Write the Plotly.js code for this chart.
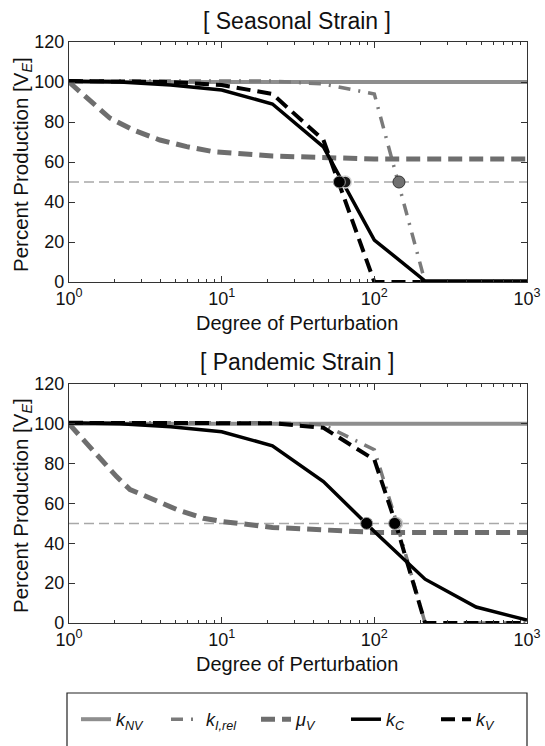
<!DOCTYPE html>
<html>
<head>
<meta charset="utf-8">
<script src="https://cdn.plot.ly/plotly-3.0.1.min.js"></script>
<style>html,body{margin:0;padding:0;background:#fff;}#plot{width:545px;height:746px;}</style>
</head>
<body>
<div id="plot"></div>
<script>
// ---------- data ----------
const xGrid = [1, 2.15, 4.64, 10, 21.5, 46.4, 100, 215, 464, 1000];

// Seasonal strain (top)
const kNV_top = [100, 100, 100, 100, 100, 100, 100, 100, 100, 100];
const kIrel_top_x = [1, 10, 21.5, 46.4, 100, 215, 464, 1000];
const kIrel_top = [100.5, 100.5, 100.5, 99, 94, 0, 0, 0];
const muV_top_x = [1, 1.31, 1.85, 2.64, 3.94, 5.9, 8.8, 21.5, 46.4, 100, 1000];
const muV_top = [100, 92, 82, 76, 71, 67.7, 65.2, 63, 62, 61.5, 61.5];
const kC_top = [100.5, 100, 98.5, 96, 89, 67.5, 21, 0.5, 0.5, 0.5];
const kV_top = [100.5, 100.5, 100, 98.5, 94, 71, 0, 0, 0, 0];
const half_top_x = [59, 64.5, 145];
const half_top_y = [50, 50, 50];

// Pandemic strain (bottom)
const kNV_bot = [100, 100, 100, 100, 100, 100, 100, 100, 100, 100];
const kIrel_bot_x = [1, 10, 21.5, 46.4, 100, 138, 215, 464, 1000];
const kIrel_bot = [100.5, 100.5, 100.5, 99.5, 87, 52, 0, 0, 0];
const muV_bot_x = [1, 1.27, 1.6, 2.05, 2.51, 3.56, 5.07, 7.58, 10, 21.5, 46.4, 100, 1000];
const muV_bot = [100, 91, 83, 73.5, 67, 62, 57, 52.6, 51, 48, 46.5, 45.5, 45.5];
const kC_bot = [100.5, 100, 98.5, 96, 89, 71, 46, 22, 8, 1.5];
const kV_bot_x = [1, 10, 21.5, 46.4, 100, 138, 215, 464, 1000];
const kV_bot = [100.5, 100.5, 100.3, 98, 82, 50, 0, 0, 0];
const half_bot_x = [89, 140, 136];
const half_bot_y = [50, 50, 50];

const refX = [1, 1000];
const refY = [50, 50];

const seriesNames = ['<i>k</i><sub><i>NV</i></sub>', '<i>k</i><sub><i>I,rel</i></sub>', '<i>μ</i><sub><i>V</i></sub>', '<i>k</i><sub><i>C</i></sub>', '<i>k</i><sub><i>V</i></sub>'];
const xTickVals = [1, 10, 100, 1000];
const xTickText = ['10<sup>0</sup>', '10<sup>1</sup>', '10<sup>2</sup>', '10<sup>3</sup>'];
const yTickVals = [0, 20, 40, 60, 80, 100, 120];
const titles = ['[ Seasonal Strain ]', '[ Pandemic Strain ]'];
const xTitle = 'Degree of Perturbation';
const yTitle = 'Percent Production [V<sub><i>E</i></sub>]';

// ---------- styles ----------
const styles = [
  {color: '#8e8e8e', width: 4, dash: 'solid'},
  {color: '#7a7a7a', width: 3.5, dash: '12px,8px,2px,8px'},
  {color: '#6e6e6e', width: 5, dash: '14px,7px'},
  {color: '#000000', width: 3.5, dash: 'solid'},
  {color: '#000000', width: 4, dash: '14px,7px'}
];

function panel(xa, ya, set, showLegend) {
  const tr = [];
  tr.push({x: refX, y: refY, xaxis: xa, yaxis: ya, mode: 'lines', showlegend: false, hoverinfo: 'skip',
           line: {color: '#a8a8a8', width: 1.5, dash: '10px,5px'}});
  set.forEach((s, i) => {
    tr.push({x: s.x, y: s.y, xaxis: xa, yaxis: ya, mode: 'lines', name: seriesNames[i],
             showlegend: showLegend, line: styles[i]});
  });
  return tr;
}

const topSet = [
  {x: xGrid, y: kNV_top}, {x: kIrel_top_x, y: kIrel_top}, {x: muV_top_x, y: muV_top},
  {x: xGrid, y: kC_top}, {x: xGrid, y: kV_top}
];
const botSet = [
  {x: xGrid, y: kNV_bot}, {x: kIrel_bot_x, y: kIrel_bot}, {x: muV_bot_x, y: muV_bot},
  {x: xGrid, y: kC_bot}, {x: kV_bot_x, y: kV_bot}
];

let traces = [];
traces = traces.concat(panel('x', 'y', topSet, true));
traces = traces.concat(panel('x2', 'y2', botSet, false));

// 50% markers
traces.push({x: [half_top_x[1]], y: [half_top_y[1]], xaxis: 'x', yaxis: 'y', mode: 'markers', showlegend: false,
  marker: {size: 12, color: '#1a1a1a', line: {color: '#d4d4d4', width: 1.5}}});
traces.push({x: [half_top_x[0]], y: [half_top_y[0]], xaxis: 'x', yaxis: 'y', mode: 'markers', showlegend: false,
  marker: {size: 12, color: '#000000', line: {color: '#9a9a9a', width: 1}}});
traces.push({x: [half_top_x[2]], y: [half_top_y[2]], xaxis: 'x', yaxis: 'y', mode: 'markers', showlegend: false,
  marker: {size: 12, color: '#707070', line: {color: '#333333', width: 1}}});
traces.push({x: [half_bot_x[1]], y: [half_bot_y[1]], xaxis: 'x2', yaxis: 'y2', mode: 'markers', showlegend: false,
  marker: {size: 12, color: '#808080', line: {color: '#cfcfcf', width: 1.5}}});
traces.push({x: [half_bot_x[2]], y: [half_bot_y[2]], xaxis: 'x2', yaxis: 'y2', mode: 'markers', showlegend: false,
  marker: {size: 12, color: '#000000', line: {color: '#9a9a9a', width: 1}}});
traces.push({x: [half_bot_x[0]], y: [half_bot_y[0]], xaxis: 'x2', yaxis: 'y2', mode: 'markers', showlegend: false,
  marker: {size: 12, color: '#000000', line: {color: '#9a9a9a', width: 1}}});

const W = 545, H = 746;
const px = v => v / W;
const py = v => 1 - v / H;

const minorVals = [];
[1, 10, 100].forEach(d => { for (let k = 2; k <= 9; k++) minorVals.push(d * k); });

const FONT = 'Liberation Sans, Arial, Helvetica, sans-serif';

function xAxis(dom, anchor) {
  return {
    type: 'log', range: [0, 3], domain: dom, anchor: anchor,
    tickmode: 'array', tickvals: xTickVals, ticktext: xTickText,
    ticks: 'inside', ticklen: 6, tickwidth: 1, tickcolor: '#333',
    showline: true, linecolor: '#333', linewidth: 1.2, mirror: 'ticks',
    showgrid: false, zeroline: false,
    tickfont: {family: FONT, size: 18, color: '#111'},
    minor: {tickmode: 'array', tickvals: minorVals, ticks: 'inside', ticklen: 3, tickcolor: '#333', showgrid: false}
  };
}
function yAxis(dom, anchor) {
  return {
    range: [0, 120], domain: dom, anchor: anchor,
    tickmode: 'array', tickvals: yTickVals,
    ticks: 'inside', ticklen: 6, tickwidth: 1, tickcolor: '#333',
    showline: true, linecolor: '#333', linewidth: 1.2, mirror: 'ticks',
    showgrid: false, zeroline: false,
    tickfont: {family: FONT, size: 18, color: '#111'}
  };
}

function ann(text, x, y, size, angle) {
  return {text: text, xref: 'paper', yref: 'paper', x: px(x), y: py(y), showarrow: false,
          xanchor: 'center', yanchor: 'middle', textangle: angle || 0,
          font: {family: FONT, size: size, color: '#111'}};
}

const xDom = [px(69), px(527)];
const layout = {
  width: W, height: H,
  margin: {l: 0, r: 0, t: 0, b: 0, autoexpand: false},
  paper_bgcolor: '#fff', plot_bgcolor: '#fff',
  font: {family: FONT, color: '#111'},
  xaxis: xAxis(xDom, 'y'),
  yaxis: yAxis([py(282), py(42)], 'x'),
  xaxis2: xAxis(xDom, 'y2'),
  yaxis2: yAxis([py(623), py(384)], 'x2'),
  showlegend: true,
  legend: {
    orientation: 'h', x: px(76), y: py(701), xanchor: 'left', yanchor: 'top',
    font: {family: FONT, size: 18, color: '#111'}, bgcolor: 'rgba(0,0,0,0)',
    itemwidth: 30, entrywidth: 45, entrywidthmode: 'pixels', tracegroupgap: 0
  },
  shapes: [
    {type: 'rect', xref: 'paper', yref: 'paper', x0: px(67), x1: px(527), y0: -0.05, y1: py(693),
     line: {color: '#222', width: 1.2}, fillcolor: 'rgba(0,0,0,0)'}
  ],
  annotations: [
    ann(titles[0], 297, 21, 23),
    ann(titles[1], 297, 362, 23),
    ann(xTitle, 297, 323, 20),
    ann(xTitle, 297, 664, 20),
    ann(yTitle, 22, 165, 20.5, -90),
    ann(yTitle, 22, 506, 20.5, -90)
  ]
};

Plotly.newPlot('plot', traces, layout, {staticPlot: true, displayModeBar: false});
</script>
</body>
</html>
